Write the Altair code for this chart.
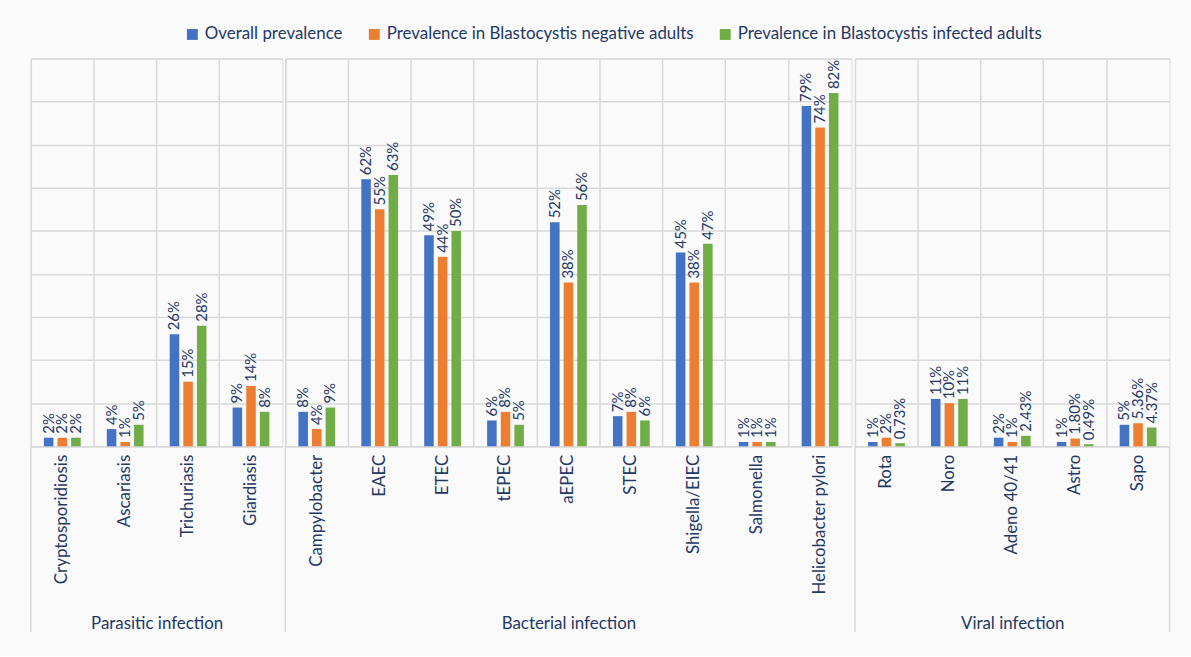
import altair as alt
import pandas as pd

group_titles = ["Parasitic infection", "Bacterial infection", "Viral infection"]
parasitic = ["Cryptosporidiosis", "Ascariasis", "Trichuriasis", "Giardiasis"]
bacterial = ["Campylobacter", "EAEC", "ETEC", "tEPEC", "aEPEC", "STEC",
             "Shigella/EIEC", "Salmonella", "Helicobacter pylori"]
viral = ["Rota", "Noro", "Adeno 40/41", "Astro", "Sapo"]
series = ["Overall prevalence",
          "Prevalence in Blastocystis negative adults",
          "Prevalence in Blastocystis infected adults"]

overall = [2, 4, 26, 9, 8, 62, 49, 6, 52, 7, 45, 1, 79, 1, 11, 2, 1, 5]
negative = [2, 1, 15, 14, 4, 55, 44, 8, 38, 8, 38, 1, 74, 2, 10, 1, 1.80, 5.36]
infected = [2, 5, 28, 8, 9, 63, 50, 5, 56, 6, 47, 1, 82, 0.73, 11, 2.43, 0.49, 4.37]

y_ticks = [0, 10, 20, 30, 40, 50, 60, 70, 80, 90]

colors = ["#4472C4", "#ED7D31", "#70AD47"]
navy = "#1F3864"
grid = "#D9D9D9"
FONT = "Lato"

STEP = 63.28
H = 390


def fmt(v):
    if float(v).is_integer():
        return f"{int(v)}%"
    return f"{v:.2f}%"


all_cats = parasitic + bacterial + viral
rows = []
for i, c in enumerate(all_cats):
    for s, vals in zip(series, [overall, negative, infected]):
        rows.append({"category": c, "series": s, "value": vals[i], "label": fmt(vals[i])})
df = pd.DataFrame(rows)


def panel(cats, title, last=False):
    w = STEP * len(cats)
    d = df[df["category"].isin(cats)]
    base = alt.Chart(d).encode(
        x=alt.X("category:N", sort=cats,
                scale=alt.Scale(paddingInner=0, paddingOuter=0),
                axis=alt.Axis(title=title, labelAngle=-90, bandPosition=0, grid=True,
                              gridColor=grid, gridWidth=1.5, ticks=False,
                              domainColor=grid, domainWidth=1.5,
                              labelFontSize=17, labelColor=navy, labelPadding=8,
                              labelLimit=300, labelFont=FONT,
                              titleFontSize=17, titleFontWeight="normal", titleColor=navy,
                              titleFont=FONT, titleY=178, titleBaseline="middle")),
        xOffset=alt.XOffset("series:N", sort=series,
                            scale=alt.Scale(paddingInner=0.3, paddingOuter=0.96)),
        y=alt.Y("value:Q", scale=alt.Scale(domain=[0, 90], nice=False),
                axis=alt.Axis(labels=False, ticks=False, domain=False, grid=True,
                              gridColor=grid, gridWidth=1.5, values=y_ticks,
                              title=None, minExtent=0)),
    )
    bars = base.mark_bar().encode(
        color=alt.Color("series:N", sort=series,
                        scale=alt.Scale(domain=series, range=colors),
                        legend=alt.Legend(orient="none", legendX=154, legendY=-33,
                                          direction="horizontal", title=None,
                                          symbolType="square", symbolSize=120,
                                          symbolStrokeWidth=0,
                                          labelFontSize=17, labelColor=navy,
                                          labelFont=FONT, columnPadding=23,
                                          labelLimit=400))
    )
    text = base.mark_text(angle=270, align="left", baseline="middle", dx=4,
                          fontSize=15, color=navy, font=FONT).encode(text="label:N")
    sep_data = alt.Data(values=[{"k": 0}])
    seps = [alt.Chart(sep_data).mark_rule(color=grid, strokeWidth=1.5).encode(
        x=alt.value(0), y=alt.value(H), y2=alt.value(H + 187))]
    if last:
        seps.append(alt.Chart(sep_data).mark_rule(color=grid, strokeWidth=1.5).encode(
            x=alt.value(w), y=alt.value(H), y2=alt.value(H + 187)))
    return alt.layer(bars, text, *seps).properties(width=w, height=H)


chart = alt.hconcat(
    panel(parasitic, group_titles[0]),
    panel(bacterial, group_titles[1]),
    panel(viral, group_titles[2], last=True),
    spacing=0,
).properties(
    padding={"left": 29, "top": 24, "right": 20, "bottom": 20},
    background="#FAFAFA",
).configure_view(
    stroke=grid, strokeWidth=1.5, fill="#EFEFEF"
).configure(font=FONT)

chart.save("out.html", embed_options={"renderer": "svg", "actions": False})
